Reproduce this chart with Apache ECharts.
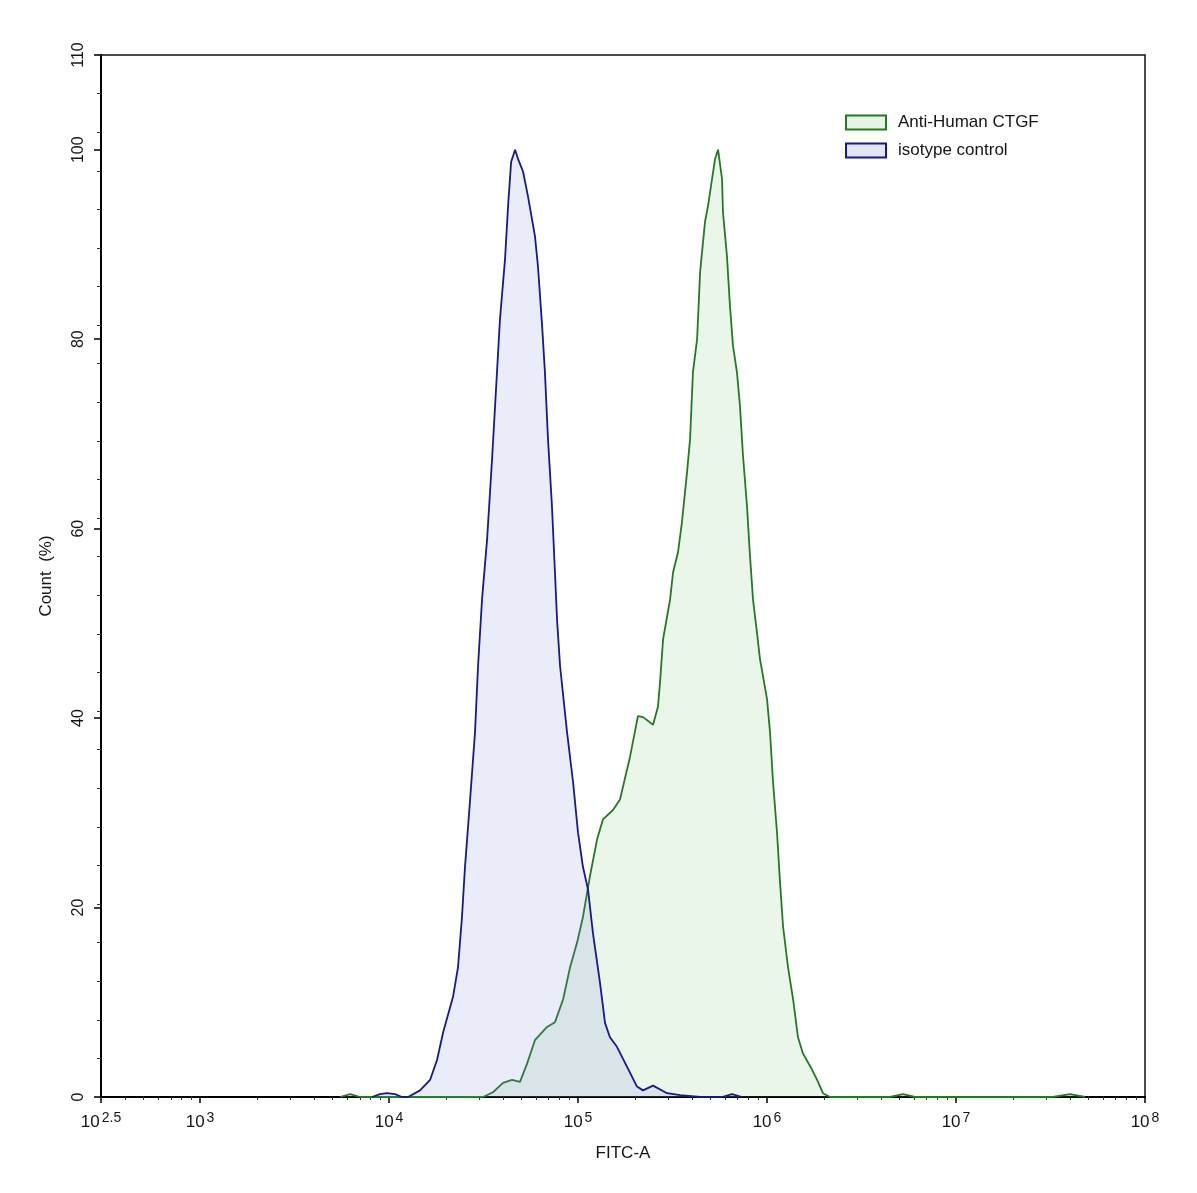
<!DOCTYPE html>
<html>
<head>
<meta charset="utf-8">
<script src="https://cdn.jsdelivr.net/npm/echarts@6/dist/echarts.min.js"></script>
<style>
html,body{margin:0;padding:0;background:#ffffff;}
#chart{width:1197px;height:1193px;}
</style>
</head>
<body>
<div id="chart"></div>
<script>
// x values are log10(FITC-A); y values are Count (%)
var isotypeLogX = [3.910,3.952,3.989,4.032,4.069,4.101,4.164,4.217,4.254,4.286,4.339,4.365,4.386,4.402,4.429,4.455,4.471,4.492,4.519,4.545,4.561,4.587,4.614,4.630,4.646,4.667,4.683,4.709,4.735,4.772,4.788,4.810,4.825,4.841,4.862,4.878,4.889,4.905,4.942,4.974,5.000,5.026,5.053,5.079,5.116,5.143,5.169,5.206,5.259,5.312,5.344,5.397,5.471,5.540,5.646,5.762,5.815,5.868];
var isotypeCount = [0,0.3,0.4,0.3,0,0,0.7,1.8,3.9,6.8,10.6,13.7,19.0,24.3,31.4,38.5,45.5,52.5,58.9,67.3,72.9,82.1,88.5,94.1,98.7,100,99.0,97.7,95.1,90.9,87.7,81.4,76.5,69.5,62.4,55.4,50.4,45.5,38.5,33.2,27.9,24.3,21.9,17.3,12.1,7.8,6.3,5.3,3.2,1.1,0.7,1.2,0.4,0.2,0,0,0.3,0];

var ctgfLogX = [3.741,3.794,3.847,4.497,4.550,4.603,4.651,4.693,4.730,4.772,4.836,4.878,4.921,4.958,4.995,5.026,5.063,5.101,5.132,5.185,5.222,5.275,5.317,5.344,5.397,5.423,5.434,5.450,5.471,5.487,5.503,5.529,5.550,5.577,5.593,5.608,5.630,5.646,5.672,5.688,5.709,5.725,5.741,5.762,5.767,5.788,5.804,5.820,5.841,5.857,5.873,5.894,5.910,5.926,5.947,5.963,5.979,6.000,6.016,6.032,6.053,6.069,6.085,6.111,6.138,6.164,6.190,6.238,6.265,6.296,6.333,6.651,6.720,6.783,7.513,7.603,7.683];
var ctgfCount = [0,0.3,0,0,0.5,1.5,1.8,1.6,3.5,6.0,7.4,7.9,10.3,13.7,16.3,19.0,23.3,27.2,29.3,30.3,31.4,35.9,40.2,40.1,39.3,41.2,43.8,48.3,50.7,52.5,55.4,57.5,60.7,66.0,69.5,76.5,80.0,87.1,92.4,94.1,96.9,99.0,100,96.9,93.4,88.8,83.5,79.3,76.5,72.9,67.7,62.4,57.1,52.5,49.0,46.2,44.4,42.0,38.5,33.2,27.9,22.6,18.0,13.7,10.3,6.3,4.6,2.9,1.8,0.4,0,0,0.3,0,0,0.3,0];

var seriesNames = ['Anti-Human CTGF', 'isotype control'];

// axis ticks (x in log10 units; leftmost position is labelled 10^2.5)
var xMin = 2.476, xMax = 8;
var xTickValues = [2.476, 3, 4, 5, 6, 7, 8];
var xTickExponents = ['2.5', '3', '4', '5', '6', '7', '8'];
var yTickValues = [0, 20, 40, 60, 80, 100, 110];
var yMinorStep = 4;

function zip(xs, ys) { var out = []; for (var i = 0; i < xs.length; i++) out.push([xs[i], ys[i]]); return out; }

var xMinor = [];
for (var d = 2; d <= 7; d++) {
  for (var k = 2; k <= 9; k++) {
    var v = d + Math.log10(k);
    if (v > xMin && v < xMax) xMinor.push(v);
  }
}

var chart = echarts.init(document.getElementById('chart'), null, {renderer: 'canvas'});
var FONT = 'Liberation Sans, Arial, sans-serif';
var TXT = '#151515';

var option = {
  backgroundColor: '#ffffff',
  animation: false,
  grid: {left: 101, right: 52, top: 55, bottom: 96, show: true, borderColor: '#111', borderWidth: 1.5, backgroundColor: 'transparent'},
  legend: {
    data: seriesNames,
    orient: 'vertical',
    left: 840,
    top: 109,
    itemWidth: 40,
    itemHeight: 14,
    itemGap: 11,
    icon: 'rect',
    textStyle: {fontFamily: FONT, fontSize: 17, color: TXT, padding: [0, 0, 0, 7]}
  },
  xAxis: [{
    type: 'value', min: xMin, max: xMax,
    name: 'FITC-A', nameLocation: 'middle', nameGap: 48,
    nameTextStyle: {fontFamily: FONT, fontSize: 17, color: TXT},
    axisLine: {show: true, onZero: false, lineStyle: {color: '#000', width: 2}},
    axisTick: {show: true, customValues: xTickValues, length: 6, inside: false, lineStyle: {color: '#000', width: 1.5}},
    axisLabel: {
      show: true, customValues: xTickValues, margin: 14,
      formatter: function (v) {
        for (var i = 0; i < xTickValues.length; i++) if (Math.abs(v - xTickValues[i]) < 1e-6) return '{b|10}{s|' + xTickExponents[i] + '}';
        return '';
      },
      rich: {
        b: {fontFamily: FONT, fontSize: 17, color: TXT, verticalAlign: 'bottom', lineHeight: 20},
        s: {fontFamily: FONT, fontSize: 14, color: TXT, verticalAlign: 'top', padding: [0, 0, 9, 2], lineHeight: 20}
      }
    },
    splitLine: {show: false}
  }, {
    type: 'value', min: xMin, max: xMax, position: 'bottom',
    axisLine: {show: false},
    axisTick: {show: true, customValues: xMinor, length: 3, lineStyle: {color: '#333', width: 1}},
    axisLabel: {show: false},
    splitLine: {show: false}
  }],
  yAxis: [{
    type: 'value', min: 0, max: 110,
    name: 'Count  (%)', nameLocation: 'middle', nameGap: 46, nameRotate: 90,
    nameTextStyle: {fontFamily: FONT, fontSize: 17, color: TXT},
    axisLine: {show: true, lineStyle: {color: '#000', width: 2}},
    axisTick: {show: true, customValues: yTickValues, length: 7, lineStyle: {color: '#000', width: 1.5}},
    axisLabel: {show: true, customValues: yTickValues, rotate: 90, margin: 14, fontFamily: FONT, fontSize: 16, color: TXT},
    splitLine: {show: false}
  }, {
    type: 'value', min: 0, max: 108, interval: yMinorStep, position: 'left',
    axisLine: {show: false},
    axisTick: {show: true, length: 4, lineStyle: {color: '#333', width: 1}},
    axisLabel: {show: false},
    splitLine: {show: false}
  }],
  series: [{
    name: seriesNames[0], type: 'line', xAxisIndex: 0, yAxisIndex: 0,
    data: zip(ctgfLogX, ctgfCount),
    showSymbol: false, symbol: 'none', smooth: false,
    lineStyle: {color: '#237a23', width: 1.8},
    itemStyle: {color: '#e6f3e6', borderColor: '#237a23', borderWidth: 1.5},
    areaStyle: {color: 'rgba(110,190,110,0.2)'},
    z: 2
  }, {
    name: seriesNames[1], type: 'line', xAxisIndex: 0, yAxisIndex: 0,
    data: zip(isotypeLogX, isotypeCount),
    showSymbol: false, symbol: 'none', smooth: false,
    lineStyle: {color: '#18188f', width: 1.8},
    itemStyle: {color: '#e3e5f8', borderColor: '#18188f', borderWidth: 1.5},
    areaStyle: {color: 'rgba(120,130,225,0.22)'},
    z: 3
  }]
};
chart.setOption(option);
</script>
</body>
</html>
